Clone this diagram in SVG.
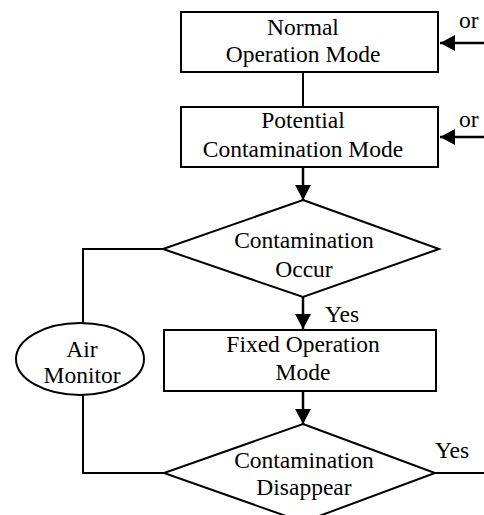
<svg xmlns="http://www.w3.org/2000/svg" width="484" height="515" viewBox="0 0 484 515">
<style>
.n{fill:#fff;stroke:#000;stroke-width:2}
.t{font-family:"Liberation Serif","Times New Roman",serif;font-size:23.5px;fill:#000;text-anchor:middle}
.l{font-family:"Liberation Serif","Times New Roman",serif;font-size:23.5px;fill:#000}
.c{fill:none;stroke:#000;stroke-width:2}
.a{fill:none;stroke:#000;stroke-width:2.5}
</style>
<defs>
<marker id="ah" markerUnits="userSpaceOnUse" markerWidth="16" markerHeight="16" refX="15" refY="8" orient="auto">
<path d="M0,0 L15,8 L0,16 Z" fill="#000"/>
</marker>
</defs>
<rect width="484" height="515" fill="#fff"/>
<g id="connectors">
<line class="c" x1="303" y1="72" x2="303" y2="107"/>
<line class="a" x1="303" y1="167" x2="303" y2="200" marker-end="url(#ah)"/>
<line class="a" x1="303" y1="297" x2="303" y2="329" marker-end="url(#ah)"/>
<line class="a" x1="303" y1="391" x2="303" y2="424" marker-end="url(#ah)"/>
<line class="a" x1="484" y1="43" x2="440" y2="43" marker-end="url(#ah)"/>
<line class="a" x1="484" y1="137" x2="440" y2="137" marker-end="url(#ah)"/>
<polyline class="c" points="163,249 83,249 83,323"/>
<polyline class="c" points="83,395 83,473 164,473"/>
<line class="c" x1="435" y1="473" x2="484" y2="473"/>
<text class="l" x="459" y="28">or</text>
<text class="l" x="459" y="127">or</text>
<text class="l" x="325" y="322">Yes</text>
<text class="l" x="435" y="458">Yes</text>
</g>
<g id="normal">
<rect class="n" x="181" y="12" width="257" height="60"/>
<text class="t" x="303" y="34.5">Normal</text>
<text class="t" x="303" y="62">Operation Mode</text>
</g>
<g id="potential">
<rect class="n" x="181" y="107" width="257" height="60"/>
<text class="t" x="303" y="128">Potential</text>
<text class="t" x="303" y="157">Contamination Mode</text>
</g>
<g id="occur">
<polygon class="n" points="303,200 439,249 303,297 163,249"/>
<text class="t" x="304" y="248">Contamination</text>
<text class="t" x="304" y="277">Occur</text>
</g>
<g id="fixed">
<rect class="n" x="164" y="330" width="272" height="61"/>
<text class="t" x="303" y="352">Fixed Operation</text>
<text class="t" x="303" y="380">Mode</text>
</g>
<g id="disappear">
<polygon class="n" points="303,424 435,473 303,522 164,473"/>
<text class="t" x="304" y="468">Contamination</text>
<text class="t" x="304" y="495">Disappear</text>
</g>
<g id="airmonitor">
<ellipse class="n" cx="80" cy="359" rx="64" ry="36"/>
<text class="t" x="82" y="357">Air</text>
<text class="t" x="82" y="383">Monitor</text>
</g>
</svg>
